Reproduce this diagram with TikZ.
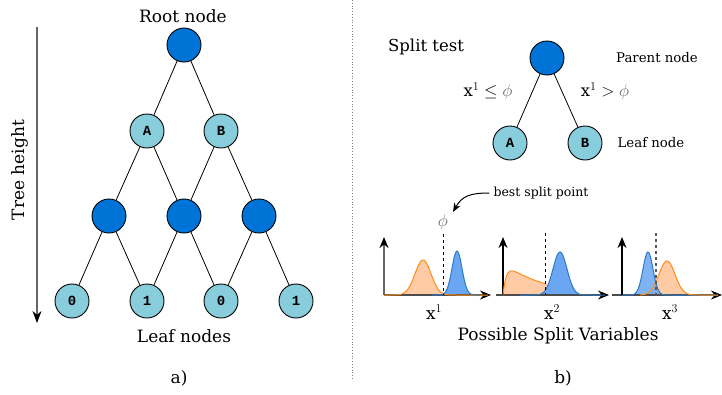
\documentclass[tikz,border=0pt]{standalone}
\usepackage{fontspec}
\setmainfont{DejaVu Serif}
\newfontfamily\monob{Liberation Mono}
\usetikzlibrary{arrows.meta}
\definecolor{dblue}{HTML}{0073D6}
\definecolor{lblue}{HTML}{88CDDC}
\definecolor{oline}{HTML}{FF8C1A}
\definecolor{ofill}{HTML}{FFCBA4}
\definecolor{bline}{HTML}{2C7BC4}
\definecolor{bfill}{HTML}{6AA6F2}
\definecolor{phigray}{HTML}{666666}
\begin{document}
\begin{tikzpicture}[x=1pt,y=-1pt,
  inner/.style={circle,draw=black,line width=0.9pt,fill=dblue,minimum size=34pt,inner sep=0pt},
  leafn/.style={circle,draw=black,line width=0.9pt,fill=lblue,minimum size=34pt,inner sep=0pt,font=\monob\bfseries\fontsize{14}{16}\selectfont},
  lbl/.style={font=\fontsize{17}{20}\selectfont,inner sep=0pt},
  small/.style={font=\fontsize{13.3}{16}\selectfont,inner sep=0pt},
  edge/.style={line width=0.8pt,black},
  axis/.style={line width=1.3pt,-{Stealth[length=11pt,width=9pt,black]}},
  curve/.style={line width=1pt}
]
\useasboundingbox (0,0) rectangle (722,394);
% ---------------- left tree
\node[lbl] (roottxt) at (183,16) {Root node};
\node[inner] (root) at (184,45) {};
\node[leafn] (a) at (147,131) {A};
\node[leafn] (b) at (221,131) {B};
\node[inner] (m1) at (109,216) {};
\node[inner] (m2) at (184,216) {};
\node[inner] (m3) at (259,216) {};
\node[leafn] (l1) at (72,301) {0};
\node[leafn] (l2) at (147,301) {1};
\node[leafn] (l3) at (221,301) {0};
\node[leafn] (l4) at (296,301) {1};
\draw[edge] (root) -- (a);
\draw[edge] (root) -- (b);
\draw[edge] (a) -- (m1);
\draw[edge] (a) -- (m2);
\draw[edge] (b) -- (m2);
\draw[edge] (b) -- (m3);
\draw[edge] (m1) -- (l1);
\draw[edge] (m1) -- (l2);
\draw[edge] (m2) -- (l2);
\draw[edge] (m2) -- (l3);
\draw[edge] (m3) -- (l3);
\draw[edge] (m3) -- (l4);
\node[lbl] (leaftxt) at (184,336) {Leaf nodes};
\node[lbl] (atxt) at (179,378) {a)};
\coordinate (th1) at (37,27);
\coordinate (th2) at (37,323);
\draw[line width=1.3pt,gray!80!black,-{Stealth[length=12pt,width=9pt,black]}] (th1) -- (th2);
\node[lbl,rotate=90] (thtxt) at (20,170) {Tree height};
% separator
\coordinate (s1) at (352,0);
\coordinate (s2) at (352,380);
\draw[gray,dotted,line width=0.8pt] (s1) -- (s2);
% ---------------- right split test
\node[font=\fontsize{16.5}{20}\selectfont,inner sep=0pt] (sttxt) at (426,47) {Split test};
\node[inner] (p) at (547,58) {};
\node[leafn] (ra) at (510,143) {A};
\node[leafn] (rb) at (585,143) {B};
\draw[edge] (p) -- (ra);
\draw[edge] (p) -- (rb);
\node[small] (pntxt) at (657,58) {Parent node};
\node[small] (lntxt) at (651,143) {Leaf node};
\node[font=\fontsize{16.5}{19}\selectfont,inner sep=0pt] (c1) at (488,91) {x$^{1}\leq{\color{phigray}\phi}$};
\node[font=\fontsize{16.5}{19}\selectfont,inner sep=0pt] (c2) at (605,91) {x$^{1}>{\color{phigray}\phi}$};
% ---------------- plots
% plot 1
\fill[ofill] plot[domain=384:488,samples=120] (\x,{295-35*exp(-0.5*((\x-423)/8)^2)}) -- cycle;
\fill[bfill] plot[domain=384:488,samples=120] (\x,{295-44*exp(-0.5*((\x-457)/5)^2)}) -- cycle;
\coordinate (o1) at (384,295);
\coordinate (y1) at (384,237);
\coordinate (x1e) at (491,295);
\draw[axis,gray!80!black,line width=1.6pt] (o1) -- (y1);
\draw[axis,black!70] (o1) -- (x1e);
\draw[curve,oline] plot[domain=384:488,samples=120] (\x,{295-35*exp(-0.5*((\x-423)/8)^2)});
\draw[curve,bline] plot[domain=432:480,samples=80] (\x,{295-44*exp(-0.5*((\x-457)/5)^2)});
\coordinate (d1a) at (443,234);
\coordinate (d1b) at (443,295);
\draw[dashed,line width=0.8pt] (d1a) -- (d1b);
\node[font=\fontsize{17}{20}\selectfont,inner sep=0pt,text=phigray] (phi) at (443,222) {$\phi$};
\node[small,font=\fontsize{12.5}{15}\selectfont] (bsp) at (541,193) {best split point};
\coordinate (bsptip) at (453,212);
\draw[line width=1pt,-{Stealth[length=9pt,width=7pt]}] (bsp.west) ++(-4,0) .. controls (470,193) and (462,196) .. (bsptip);
\node[lbl] (xl1) at (434,312) {x$^{1}$};
% plot 2
\fill[ofill] plot[domain=503:556,samples=120] (\x,{295-32.6*(1-exp(-(\x-503)/3.5))*exp(-(\x-503)/40)*max(0,min(1,(556-\x)/8))}) -- cycle;
\fill[bfill] plot[domain=520:605,samples=120] (\x,{295-43*exp(-0.5*((\x-560)/7)^2)}) -- cycle;
\coordinate (o2) at (503,295);
\coordinate (y2) at (503,237);
\coordinate (x2s) at (496,295);
\coordinate (x2e) at (609,295);
\draw[axis,black!70] (x2s) -- (x2e);
\draw[axis,black,line width=1.3pt] (o2) -- (y2);
\draw[curve,oline] plot[domain=503:546,samples=100] (\x,{295-32.6*(1-exp(-(\x-503)/3.5))*exp(-(\x-503)/40)});
\draw[curve,bline] plot[domain=520:605,samples=120] (\x,{295-43*exp(-0.5*((\x-560)/7)^2)});
\coordinate (d2a) at (545,233);
\coordinate (d2b) at (545,295);
\draw[dashed,line width=0.8pt] (d2a) -- (d2b);
\node[lbl] (xl2) at (552,312) {x$^{2}$};
% plot 3
\fill[ofill] plot[domain=622:718,samples=120] (\x,{295-34*exp(-0.5*((\x-667)/8)^2)}) -- cycle;
\fill[bfill,opacity=0.85] plot[domain=622:718,samples=120] (\x,{295-43*exp(-0.5*((\x-648)/5)^2)}) -- cycle;
\coordinate (o3) at (622,295);
\coordinate (y3) at (622,237);
\coordinate (x3s) at (612,295);
\coordinate (x3e) at (722,295);
\draw[axis,black!70] (x3s) -- (x3e);
\draw[axis,black,line width=1.3pt] (o3) -- (y3);
\draw[curve,bline] plot[domain=622:718,samples=120] (\x,{295-43*exp(-0.5*((\x-648)/5)^2)});
\draw[curve,oline] plot[domain=640:718,samples=120] (\x,{295-34*exp(-0.5*((\x-667)/8)^2)});
\coordinate (d3a) at (656,233);
\coordinate (d3b) at (656,295);
\draw[dashed,gray!70!black,line width=1.4pt] (d3a) -- (d3b);
\node[lbl] (xl3) at (670,312) {x$^{3}$};
\node[lbl] (psv) at (558,336) {Possible Split Variables};
\node[lbl] (btxt) at (563,378) {b)};
\end{tikzpicture}
\end{document}
